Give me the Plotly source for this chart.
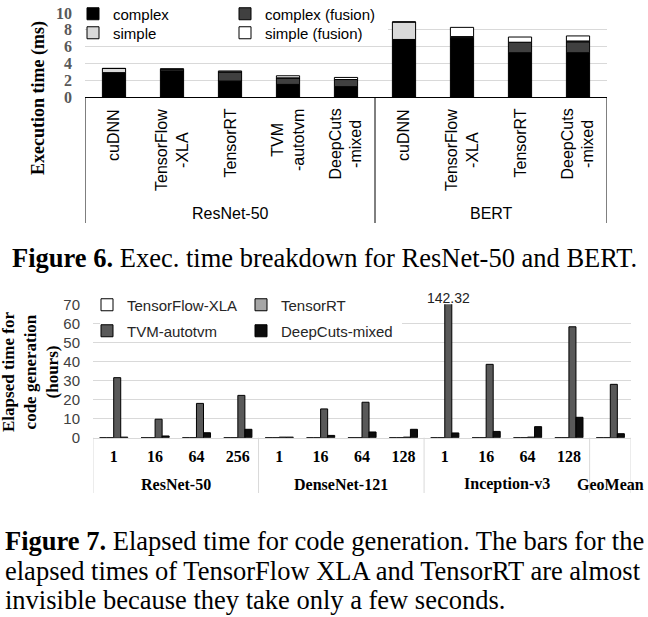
import numpy as np
import plotly.graph_objects as go

# ---------------- data: Figure 6 ----------------
groups6 = ["ResNet-50", "BERT"]
systems6 = [
    ["cuDNN", "TensorFlow<br>-XLA", "TensorRT", "TVM<br>-autotvm", "DeepCuts<br>-mixed"],
    ["cuDNN", "TensorFlow<br>-XLA", "TensorRT", "DeepCuts<br>-mixed"],
]
complex_ms = [2.9, 3.1, 1.9, 1.5, 1.23, 6.85, 6.95, 5.27, 5.27]
complex_fusion_ms = [0.0, 0.2, 1.1, 0.78, 0.85, 0.0, 0.12, 1.25, 1.3]
simple_ms = [0.5, 0.0, 0.0, 0.0, 0.0, 2.08, 0.12, 0.0, 0.1]
simple_fusion_ms = [0.0, 0.05, 0.1, 0.25, 0.25, 0.0, 1.1, 0.62, 0.6]
series6_names = ["complex", "complex (fusion)", "simple", "simple (fusion)"]
y6_ticks = [0, 2, 4, 6, 8, 10]

# ---------------- data: Figure 7 ----------------
groups7 = ["ResNet-50", "DenseNet-121", "Inception-v3", "GeoMean"]
batches7 = [["1", "16", "64", "256"], ["1", "16", "64", "128"], ["1", "16", "64", "128"], [""]]
tf_xla_h = [0.002] * 13
tensorrt_h = [0.003] * 13
tvm_h = [31.5, 9.7, 18.0, 22.2, 0.3, 15.1, 18.6, 0.3, 142.32, 38.5, 0.3, 58.2, 28.0]
deepcuts_h = [0.3, 0.9, 2.6, 4.4, 0.3, 1.2, 3.0, 4.4, 2.5, 3.3, 5.8, 10.7, 2.1]
series7_names = ["TensorFlow-XLA", "TensorRT", "TVM-autotvm", "DeepCuts-mixed"]
y7_ticks = [0, 10, 20, 30, 40, 50, 60, 70]

caption6 = "<b>Figure 6.</b> Exec. time breakdown for ResNet-50 and BERT."
caption7 = [
    "<b>Figure 7.</b> Elapsed time for code generation. The bars for the",
    "elapsed times of TensorFlow XLA and TensorRT are almost",
    "invisible because they take only a few seconds.",
]

# ---------------- layout helpers ----------------
W, H = 648, 617


def px(x):
    return x / W


def py(y):
    return 1 - y / H


SANS = "Liberation Sans"
SERIF = "Liberation Serif"

# plot-area pixel frames
T_L, T_R, T_B, T_T = 85, 607, 97, 13
B_L, B_R, B_B, B_T = 93, 631, 437.7, 304.3

fig = go.Figure()

# ---- Figure 6 bars (stacked via base) ----
keys6 = [f"{g}|{s}" for g, ss in zip(groups6, systems6) for s in ss]
labels6 = [s for ss in systems6 for s in ss]
stack6 = [complex_ms, complex_fusion_ms, simple_ms, simple_fusion_ms]
colors6 = ["#000000", "#404040", "#d9d9d9", "#ffffff"]
legends6 = ["legend", "legend", "legend2", "legend2"]
base = np.zeros(len(keys6))
for name, vals, col, lg in zip(series6_names, stack6, colors6, legends6):
    v = np.array(vals, dtype=float)
    fig.add_trace(go.Bar(
        x=keys6, y=v, base=base.copy(), name=name, width=0.4,
        marker=dict(color=col, line=dict(color="#000000", width=1)),
        xaxis="x", yaxis="y", legend=lg,
    ))
    base = base + v

# ---- Figure 7 bars (grouped via offset) ----
keys7 = [f"{g}|{b}" for g, bs in zip(groups7, batches7) for b in bs]
labels7 = [b for bs in batches7 for b in bs]
vals7 = [tf_xla_h, tensorrt_h, tvm_h, deepcuts_h]
colors7 = ["#ffffff", "#a6a6a6", "#595959", "#0d0d0d"]
legends7 = ["legend3", "legend3", "legend4", "legend4"]
bw7 = 0.17
for k, (name, vals, col, lg) in enumerate(zip(series7_names, vals7, colors7, legends7)):
    fig.add_trace(go.Bar(
        x=keys7, y=vals, name=name, width=bw7, offset=-2 * bw7 + k * bw7,
        marker=dict(color=col, line=dict(color="#000000", width=1)),
        xaxis="x2", yaxis="y2", legend=lg,
    ))

annotations = []
shapes = []

# Figure 6 category labels (rotated) and group labels
for i, lab in enumerate(labels6):
    annotations.append(dict(
        x=i, xref="x", y=py(107), yref="paper", yanchor="top", xanchor="center",
        text=lab, textangle=-90, showarrow=False, align="center",
        font=dict(family=SANS, size=16, color="#000000"),
    ))
start = 0
bounds6 = [-0.5]
for g, ss in zip(groups6, systems6):
    n = len(ss)
    annotations.append(dict(
        x=start + (n - 1) / 2, xref="x", y=py(213), yref="paper", yanchor="middle",
        text=g, showarrow=False, font=dict(family=SANS, size=16, color="#000000"),
    ))
    start += n
    bounds6.append(start - 0.5)
for b in bounds6:
    shapes.append(dict(type="line", xref="x", yref="paper", x0=b, x1=b,
                       y0=py(T_B), y1=py(223), line=dict(color="#000000", width=1)))

# Figure 7 group labels and dividers
start = 0
bounds7 = [-0.5]
for g, bs in zip(groups7, batches7):
    n = len(bs)
    annotations.append(dict(
        x=start + (n - 1) / 2, xref="x2", y=py(484), yref="paper", yanchor="middle",
        text=g, showarrow=False,
        font=dict(family=SERIF, size=16, color="#000000", weight="bold"),
    ))
    start += n
    bounds7.append(start - 0.5)
for b in bounds7:
    shapes.append(dict(type="line", xref="x2", yref="paper", x0=b, x1=b,
                       y0=py(B_B), y1=py(493), line=dict(color="#d9d9d9", width=1)))

# value label for the clipped bar
ymax7 = y7_ticks[-1]
imax = int(np.argmax(tvm_h))
xlab = imax + bw7 / 2
annotations.append(dict(
    x=xlab, xref="x2", y=ymax7, yref="y2", yanchor="middle", yshift=6,
    text=f"{tvm_h[imax]:.2f}", showarrow=False,
    font=dict(family=SANS, size=14, color="#222222"),
))


# white panels (above gridlines, below bars) behind the legends and the value label
def top_data(xp, yp):
    n = len(keys6)
    return (xp - T_L) / (T_R - T_L) * n - 0.5, (T_B - yp) / (T_B - T_T) * y6_ticks[-1]


def bot_data(xp, yp):
    n = len(keys7)
    return (xp - B_L) / (B_R - B_L) * n - 0.5, (B_B - yp) / (B_B - B_T) * ymax7


for fn, xr, yr, (xa, ya, xb, yb) in [
    (top_data, "x", "y", (87, 42, 388, 2)),
    (bot_data, "x2", "y2", (100, 338, 402, 296)),
    (bot_data, "x2", "y2", (415, 307, 490, 301)),
]:
    x0, y0 = fn(xa, ya)
    x1, y1 = fn(xb, yb)
    shapes.append(dict(type="rect", layer="between", xref=xr, yref=yr,
                       x0=x0, x1=x1, y0=y0, y1=y1,
                       fillcolor="#ffffff", line=dict(width=0)))

# y-axis titles
annotations.append(dict(
    x=px(38), xref="paper", y=py(98), yref="paper", xanchor="center", yanchor="middle",
    text="Execution time (ms)", textangle=-90, showarrow=False,
    font=dict(family=SERIF, size=18, color="#000000", weight="bold"),
))
annotations.append(dict(
    x=px(30), xref="paper", y=py(372), yref="paper", xanchor="center", yanchor="middle",
    text="Elapsed time for<br>code generation<br>(hours)", textangle=-90, showarrow=False,
    align="center",
    font=dict(family=SERIF, size=17, color="#000000", weight="bold"),
))

# captions
annotations.append(dict(
    x=px(324), xref="paper", y=py(258), yref="paper", xanchor="center", yanchor="middle",
    text=caption6, showarrow=False, font=dict(family=SERIF, size=26.5, color="#000000"),
))
for j, line in enumerate(caption7):
    annotations.append(dict(
        x=px(3), xref="paper", y=py(541 + 29.5 * j), yref="paper", xanchor="left", yanchor="middle",
        text=line, showarrow=False, font=dict(family=SERIF, size=26.5, color="#000000"),
    ))

leg_common = dict(orientation="h", xanchor="left", yanchor="middle",
                  bgcolor="rgba(255,255,255,0)",
                  borderwidth=0, itemclick=False, itemdoubleclick=False)

fig.update_layout(
    width=W, height=H, autosize=False,
    margin=dict(l=0, r=0, t=0, b=0, pad=0, autoexpand=False),
    paper_bgcolor="#ffffff", plot_bgcolor="#ffffff",
    barmode="overlay",
    showlegend=True,
    xaxis=dict(domain=[px(T_L), px(T_R)], anchor="y", type="category",
               categoryorder="array", categoryarray=keys6, range=[-0.5, len(keys6) - 0.5],
               showticklabels=False, ticks="", showgrid=False, zeroline=False,
               showline=True, linecolor="#000000", linewidth=1, fixedrange=True),
    yaxis=dict(domain=[py(T_B), py(T_T)], anchor="x", range=[0, y6_ticks[-1]],
               tickvals=y6_ticks, ticks="", ticklabelstandoff=12,
               tickfont=dict(family=SERIF, size=16, color="#595959", weight="bold"),
               showgrid=True, gridcolor="#d9d9d9", gridwidth=1, zeroline=False,
               showline=False, fixedrange=True),
    xaxis2=dict(domain=[px(B_L), px(B_R)], anchor="y2", type="category",
                categoryorder="array", categoryarray=keys7, range=[-0.5, len(keys7) - 0.5],
                tickvals=keys7, ticktext=labels7, ticks="", ticklabelstandoff=4,
                tickfont=dict(family=SERIF, size=16, color="#000000", weight="bold"),
                showgrid=False, zeroline=False,
                showline=True, linecolor="#d9d9d9", linewidth=1, fixedrange=True),
    yaxis2=dict(domain=[py(B_B), py(B_T)], anchor="x2", range=[0, ymax7],
                tickvals=y7_ticks, ticks="", ticklabelstandoff=12,
                tickfont=dict(family=SANS, size=15, color="#404040"),
                showgrid=True, gridcolor="#d9d9d9", gridwidth=1, zeroline=False,
                showline=False, fixedrange=True),
    legend=dict(x=px(73), y=py(14), entrywidth=107,
                font=dict(family=SANS, size=15, color="#000000"), **leg_common),
    legend2=dict(x=px(73), y=py(33), entrywidth=107,
                 font=dict(family=SANS, size=15, color="#000000"), **leg_common),
    legend3=dict(x=px(87), y=py(305), entrywidth=109,
                 font=dict(family=SANS, size=15, color="#262626"), **leg_common),
    legend4=dict(x=px(87), y=py(331), entrywidth=109,
                 font=dict(family=SANS, size=15, color="#262626"), **leg_common),
    annotations=annotations,
    shapes=shapes,
    hovermode=False,
)

fig.write_html("out.html", config={"displayModeBar": False})
